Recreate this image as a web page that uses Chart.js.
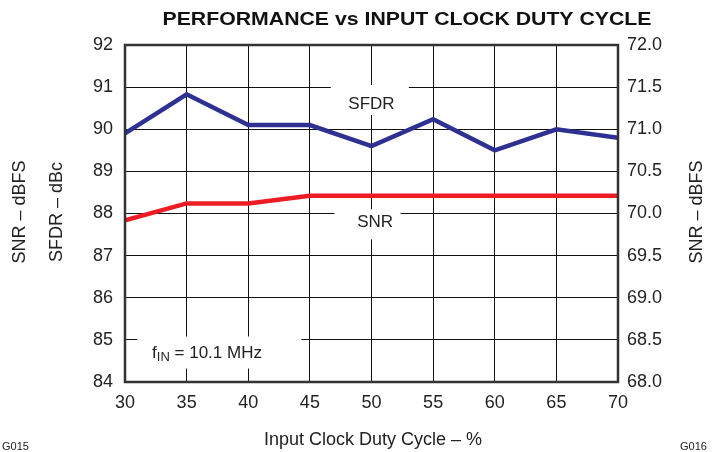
<!DOCTYPE html>
<html>
<head>
<meta charset="utf-8">
<script src="https://cdn.jsdelivr.net/npm/chart.js@4"></script>
<style>
  html, body { margin: 0; padding: 0; background: #fff; }
  #wrap { width: 716px; height: 452px; position: relative; }
</style>
</head>
<body>
<div id="wrap"><canvas id="myChart" width="716" height="452"></canvas></div>
<script>
// duty cycle values (%)
const dutyCycle = [30, 35, 40, 45, 50, 55, 60, 65, 70];
// SFDR in dBc (left axis)
const sfdr = [89.9, 90.83, 90.1, 90.1, 89.6, 90.24, 89.5, 90.0, 89.8];
// SNR in dBFS (right axis)
const snr = [69.92, 70.12, 70.12, 70.21, 70.21, 70.21, 70.21, 70.21, 70.21];

const FONT = "'Liberation Sans', Arial, Helvetica, sans-serif";

// text labels, boxes and titles
const labelsPlugin = {
    id: 'labels',
    beforeDatasetsDraw(chart) {
        const ctx = chart.ctx;
        const x = chart.scales.x, y = chart.scales.y;
        ctx.save();
        ctx.fillStyle = '#fff';
        // white boxes behind the inline labels
        ctx.fillRect(x.getPixelForValue(46.7), y.getPixelForValue(91.05), 78, 30);
        ctx.fillRect(x.getPixelForValue(47.0), y.getPixelForValue(88.1), 66, 30);
        ctx.fillRect(x.getPixelForValue(31.0), y.getPixelForValue(85.08), 164, 32);
        ctx.fillStyle = '#222';
        ctx.font = '17px ' + FONT;
        ctx.textBaseline = 'middle';
        ctx.textAlign = 'center';
        ctx.fillText('SFDR', x.getPixelForValue(50), y.getPixelForValue(90.6));
        ctx.fillText('SNR', x.getPixelForValue(50.3), y.getPixelForValue(87.78));
        // f_IN label with subscript
        let px = x.getPixelForValue(32.2), py = y.getPixelForValue(84.68);
        ctx.textAlign = 'left';
        ctx.fillText('f', px, py);
        let w = ctx.measureText('f').width;
        ctx.font = '13px ' + FONT;
        ctx.fillText('IN', px + w, py + 4);
        w += ctx.measureText('IN').width;
        ctx.font = '17px ' + FONT;
        ctx.fillText(' = 10.1 MHz', px + w, py);
        ctx.restore();
    },
    afterDatasetsDraw(chart) {
        const ctx = chart.ctx;
        const a = chart.chartArea;
        ctx.save();
        ctx.strokeStyle = '#333';
        ctx.lineWidth = 2.5;
        ctx.strokeRect(a.left, a.top, a.right - a.left, a.bottom - a.top);
        // title, stretched to the reference width
        ctx.fillStyle = '#111';
        ctx.textAlign = 'center';
        ctx.textBaseline = 'middle';
        ctx.font = 'bold 19px ' + FONT;
        const title = 'PERFORMANCE vs INPUT CLOCK DUTY CYCLE';
        const sx = 489 / ctx.measureText(title).width;
        ctx.save();
        ctx.translate(407, 20);
        ctx.scale(sx, 1);
        ctx.fillText(title, 0, 0);
        ctx.restore();
        ctx.fillStyle = '#222';
        ctx.font = '18px ' + FONT;
        ctx.fillText('Input Clock Duty Cycle \u2013 %', 373, 440);
        ctx.font = '11px ' + FONT;
        ctx.textAlign = 'left';
        ctx.fillText('G015', 2, 447);
        ctx.fillText('G016', 680, 447);
        ctx.font = '18px ' + FONT;
        ctx.textAlign = 'center';
        const rot = (t, cx, cy) => {
            ctx.save();
            ctx.translate(cx, cy);
            ctx.rotate(-Math.PI / 2);
            ctx.fillText(t, 0, 0);
            ctx.restore();
        };
        rot('SNR \u2013 dBFS', 20, 212);
        rot('SFDR \u2013 dBc', 57, 212);
        rot('SNR \u2013 dBFS', 697, 212);
        ctx.restore();
    }
};

const ctx = document.getElementById('myChart').getContext('2d');
const myChart = new Chart(ctx, {
    type: 'line',
    data: {
        labels: dutyCycle,
        datasets: [{
            label: 'SFDR',
            data: dutyCycle.map((d, i) => ({ x: d, y: sfdr[i] })),
            borderColor: '#2E3192',
            borderWidth: 4.5,
            pointRadius: 0,
            yAxisID: 'y'
        }, {
            label: 'SNR',
            data: dutyCycle.map((d, i) => ({ x: d, y: snr[i] })),
            borderColor: '#ED1C24',
            borderWidth: 4.5,
            pointRadius: 0,
            yAxisID: 'y1'
        }]
    },
    options: {
        responsive: false,
        animation: false,
        layout: { padding: { top: 45 } },
        plugins: {
            legend: { display: false },
            tooltip: { enabled: false }
        },
        scales: {
            x: {
                type: 'linear',
                min: 30, max: 70,
                afterFit(s) { s.height = 70; },
                ticks: { stepSize: 5, padding: 10, color: '#222', font: { size: 18, family: FONT } },
                grid: { color: '#111', lineWidth: 1, drawTicks: false },
                border: { display: false }
            },
            y: {
                position: 'left',
                min: 84, max: 92,
                afterFit(s) { s.width = 125; },
                ticks: { stepSize: 1, padding: 12, color: '#222', font: { size: 18, family: FONT } },
                grid: { color: '#111', lineWidth: 1, drawTicks: false },
                border: { display: false }
            },
            y1: {
                position: 'right',
                min: 68, max: 72,
                afterFit(s) { s.width = 98; },
                ticks: {
                    stepSize: 0.5, padding: 9, color: '#222',
                    font: { size: 18, family: FONT },
                    callback: v => v.toFixed(1)
                },
                grid: { display: false, drawTicks: false },
                border: { display: false }
            }
        }
    },
    plugins: [labelsPlugin]
});
</script>
</body>
</html>
